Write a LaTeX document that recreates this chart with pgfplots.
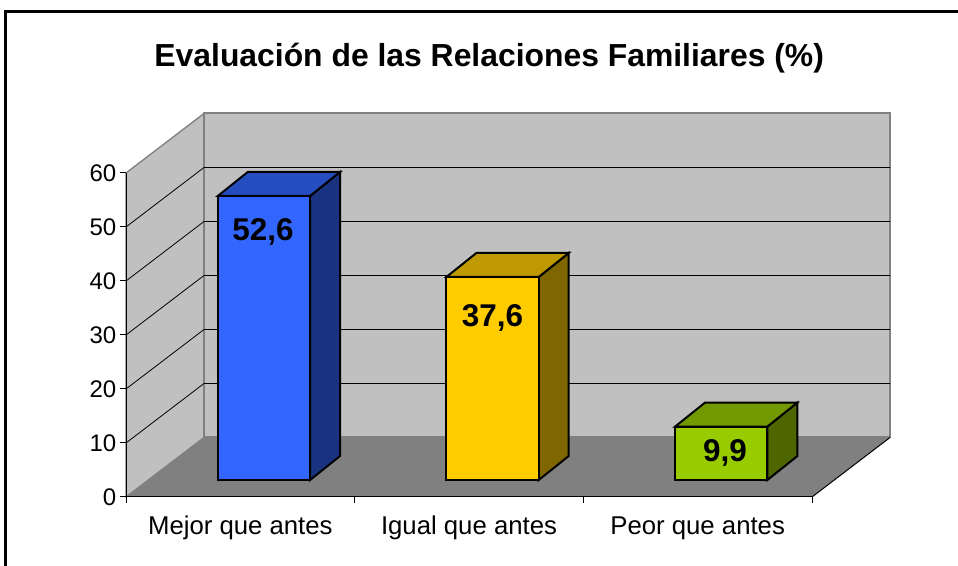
\documentclass[border=0pt]{standalone}
\usepackage{pgfplots}
\pgfplotsset{compat=1.18}
\usepackage{fontspec}
\setmainfont{Liberation Sans}
\definecolor{wallc}{HTML}{C0C0C0}
\definecolor{floorc}{HTML}{808080}
\definecolor{blueF}{HTML}{3366FF}
\definecolor{blueT}{HTML}{264DBF}
\definecolor{blueS}{HTML}{1A3380}
\definecolor{yelF}{HTML}{FFCC00}
\definecolor{yelT}{HTML}{BF9900}
\definecolor{yelS}{HTML}{806600}
\definecolor{grnF}{HTML}{99CC00}
\definecolor{grnT}{HTML}{739900}
\definecolor{grnS}{HTML}{4D6600}
\begin{document}
\begin{tikzpicture}
\useasboundingbox (0,0) rectangle (718.5pt,424.5pt);
\draw[black,line width=1.8pt] (4.1pt,0) -- (4.1pt,416pt) -- (718.5pt,416pt);
\begin{axis}[
  at={(94.5pt,51.75pt)}, anchor=south west,
  scale only axis, width=514.5pt, height=243pt,
  xmin=0, xmax=3, ymin=0, ymax=60,
  clip=false, axis on top,
  axis x line*=bottom, axis y line*=left,
  axis line style={black,line width=0.75pt,-},
  xtick={0,1,2,3}, xticklabels={}, 
  extra x ticks={0.5,1.5,2.5},
  extra x tick labels={Mejor que antes,Igual que antes,Peor que antes},
  extra x tick style={major tick length=0pt, tick label style={yshift=-10.5pt,text height=14pt,text depth=4pt,font=\fontsize{19.3}{21}\selectfont}},
  ytick={0,10,20,30,40,50,60},
  tick style={black,line width=0.75pt},
  major tick length=4.8pt,
  tick align=outside,
  tick pos=left,
  tick label style={font=\fontsize{18}{20}\selectfont},
  yticklabel style={xshift=1pt},
  /pgf/number format/assume math mode=true,
  every axis plot/.append style={line join=miter},
]
% side wall
\addplot[fill=wallc,draw=floorc,line width=1pt] coordinates {(0,0)(0,60)(0.3411,71.02)(0.3411,11.02)} -- cycle;
% back wall
\addplot[fill=wallc,draw=floorc,line width=1.5pt] coordinates {(0.3411,11.02)(0.3411,71.02)(3.3411,71.02)(3.3411,11.02)} -- cycle;
% floor
\addplot[fill=floorc,draw=none] coordinates {(0,0)(3,0)(3.3411,11.02)(0.3411,11.02)} -- cycle;
\addplot[black,line width=0.75pt] coordinates {(3,0)(3.3411,11.02)};
% grid lines
\addplot[black,line width=0.6pt] coordinates {(0,10)(0.3411,21.02)(3.3411,21.02)};
\addplot[black,line width=0.6pt] coordinates {(0,20)(0.3411,31.02)(3.3411,31.02)};
\addplot[black,line width=0.6pt] coordinates {(0,30)(0.3411,41.02)(3.3411,41.02)};
\addplot[black,line width=0.6pt] coordinates {(0,40)(0.3411,51.02)(3.3411,51.02)};
\addplot[black,line width=0.6pt] coordinates {(0,50)(0.3411,61.02)(3.3411,61.02)};
% bars
\pgfplotsset{barbit/.style={draw=black,line width=1.5pt,xshift=17.7pt,yshift=12.75pt}}
% Mejor
\addplot[barbit,fill=blueS] coordinates {(0.7018,0)(0.8330,4.444)(0.8330,57.044)(0.7018,52.6)} -- cycle;
\addplot[barbit,fill=blueT] coordinates {(0.2982,52.6)(0.7018,52.6)(0.8330,57.044)(0.4294,57.044)} -- cycle;
\addplot[barbit,fill=blueF] coordinates {(0.2982,0)(0.7018,0)(0.7018,52.6)(0.2982,52.6)} -- cycle;
% Igual
\addplot[barbit,fill=yelS] coordinates {(1.7018,0)(1.8330,4.444)(1.8330,42.044)(1.7018,37.6)} -- cycle;
\addplot[barbit,fill=yelT] coordinates {(1.2982,37.6)(1.7018,37.6)(1.8330,42.044)(1.4294,42.044)} -- cycle;
\addplot[barbit,fill=yelF] coordinates {(1.2982,0)(1.7018,0)(1.7018,37.6)(1.2982,37.6)} -- cycle;
% Peor
\addplot[barbit,fill=grnS] coordinates {(2.7018,0)(2.8330,4.444)(2.8330,14.344)(2.7018,9.9)} -- cycle;
\addplot[barbit,fill=grnT] coordinates {(2.2982,9.9)(2.7018,9.9)(2.8330,14.344)(2.4294,14.344)} -- cycle;
\addplot[barbit,fill=grnF] coordinates {(2.2982,0)(2.7018,0)(2.7018,9.9)(2.2982,9.9)} -- cycle;
\node[font=\fontsize{23.6}{26}\bfseries\selectfont] at (axis cs:0.599,49.1) {52,6};
\node[font=\fontsize{23.6}{26}\bfseries\selectfont] at (axis cs:1.603,33.1) {37,6};
\node[font=\fontsize{23.6}{26}\bfseries\selectfont] at (axis cs:2.62,8.1) {9,9};
\end{axis}
\node[font=\fontsize{23.9}{26}\bfseries\selectfont] at (366.9pt,381pt) {Evaluación de las Relaciones Familiares (\%)};
\end{tikzpicture}
\end{document}
